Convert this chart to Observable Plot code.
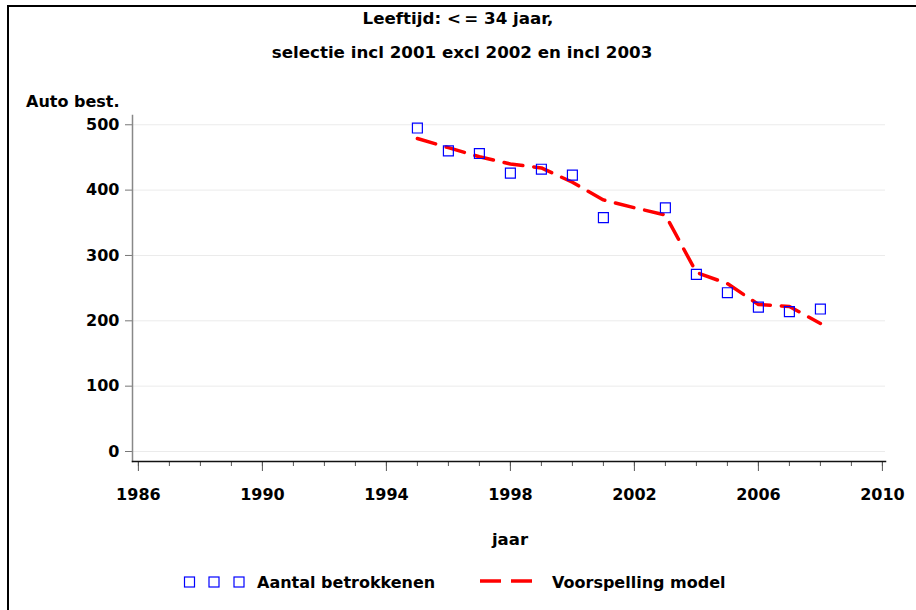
<!DOCTYPE html>
<html>
<head>
<meta charset="utf-8">
<script src="https://cdn.jsdelivr.net/npm/d3@7"></script>
<script src="https://cdn.jsdelivr.net/npm/@observablehq/plot@0.6"></script>
<style>
  html, body { margin: 0; padding: 0; background: #fff; }
  #chart svg { display: block; }
</style>
</head>
<body>
<div id="chart"></div>
<script>
// Observed counts (no observation for 2002, which is excluded from the selection)
const obsYears  = [1995, 1996, 1997, 1998, 1999, 2000, 2001, 2003, 2004, 2005, 2006, 2007, 2008];
const obsValues = [495, 460, 456, 426, 432, 423, 358, 373, 271, 243, 221, 214, 218];

// Model forecast, one value per year
const modelYears  = [1995, 1996, 1997, 1998, 1999, 2000, 2001, 2002, 2003, 2004, 2005, 2006, 2007, 2008];
const modelValues = [479, 465, 451, 440, 434, 412, 385, 373, 362, 274, 257, 225, 222, 196];

// Axis ticks
const yTicks = [0, 100, 200, 300, 400, 500];
const xMajorTicks = [1986, 1990, 1994, 1998, 2002, 2006, 2010];
const xMinorTicks = d3.range(1986, 2011);

const titleLines = ["Leeftijd: <\u2009= 34 jaar,", "selectie incl 2001 excl 2002 en incl 2003"];
const yLabel = "Auto best.";
const xLabel = "jaar";
const legendLabels = ["Aantal betrokkenen", "Voorspelling model"];

const observed = obsYears.map((year, i) => ({year, value: obsValues[i]}));
const model = modelYears.map((year, i) => ({year, value: modelValues[i]}));

const W = 916, H = 610;
const mL = 132, mR = 31, mT = 115, mB = 149;
const tickFont = {fontFamily: "DejaVu Sans", fontSize: 16, fontWeight: "bold", fill: "#000"};

const chart = Plot.plot({
  width: W,
  height: H,
  marginLeft: mL,
  marginRight: mR,
  marginTop: mT,
  marginBottom: mB,
  style: {fontFamily: "DejaVu Sans", background: "#fff", overflow: "visible"},
  x: {domain: [1985.81, 2010.1], axis: null},
  y: {domain: [-15.3, 514.2], axis: null},
  marks: [
    Plot.ruleY(yTicks, {stroke: "#ebebeb", strokeWidth: 1}),
    // y axis
    Plot.axisY({ticks: yTicks, tickSize: 7, tickPadding: 6, stroke: "#777", label: null, ...tickFont}),
    Plot.frame({anchor: "left", stroke: "#888", strokeWidth: 1.5}),
    // x axis: yearly minor ticks, longer labelled ticks every four years
    Plot.axisX({ticks: xMinorTicks, tickSize: 5, text: null, label: null, stroke: "#555"}),
    Plot.axisX({ticks: xMajorTicks, tickSize: 10, tickPadding: 17, tickFormat: d => String(d),
      label: null, stroke: "#555", ...tickFont}),
    Plot.frame({anchor: "bottom", stroke: "#111", strokeWidth: 1.5}),
    // model forecast
    Plot.line(model, {x: "year", y: "value", stroke: "#ff0000", strokeWidth: 3.5,
      strokeDasharray: "19,11", strokeLinejoin: "round"}),
    // observed counts
    Plot.dot(observed, {x: "year", y: "value", symbol: "square", r: 5.6,
      stroke: "#0000ff", strokeWidth: 1.2, fill: "none"})
  ]
});

document.getElementById("chart").appendChild(chart);

// Titles, axis titles, legend and the outer border
const svg = d3.select(chart);
const g = svg.append("g").attr("font-family", "DejaVu Sans").attr("fill", "#000");

g.append("text").attr("x", 458).attr("y", 24).attr("text-anchor", "middle")
  .attr("font-size", 16.7).attr("font-weight", "bold").text(titleLines[0]);
g.append("text").attr("x", 462).attr("y", 58).attr("text-anchor", "middle")
  .attr("font-size", 16.7).attr("font-weight", "bold").text(titleLines[1]);

g.append("text").attr("x", 26).attr("y", 107).attr("text-anchor", "start").attr("font-size", 16)
  .attr("font-weight", "bold").text(yLabel);
g.append("text").attr("x", 510).attr("y", 545).attr("text-anchor", "middle")
  .attr("font-size", 16.5).attr("font-weight", "bold").text(xLabel);

// legend
const legY = 582;
const leg = svg.append("g");
[189.5, 214, 239].forEach(cx => {
  leg.append("rect").attr("x", cx - 5).attr("y", legY - 5).attr("width", 10).attr("height", 10)
    .attr("fill", "none").attr("stroke", "#0000ff").attr("stroke-width", 1.2);
});
leg.append("text").attr("x", 257).attr("y", legY + 6).attr("text-anchor", "start")
  .attr("font-family", "DejaVu Sans").attr("font-size", 16).attr("font-weight", "bold")
  .text(legendLabels[0]);
leg.append("line").attr("x1", 480).attr("x2", 532).attr("y1", legY - 1).attr("y2", legY - 1)
  .attr("stroke", "#ff0000").attr("stroke-width", 3.5).attr("stroke-dasharray", "21,10");
leg.append("text").attr("x", 552).attr("y", legY + 6).attr("text-anchor", "start")
  .attr("font-family", "DejaVu Sans").attr("font-size", 16).attr("font-weight", "bold")
  .text(legendLabels[1]);

// border
svg.append("path").attr("d", `M8,${H} L8,6 L${W},6`).attr("fill", "none")
  .attr("stroke", "#000").attr("stroke-width", 2);
</script>
</body>
</html>
